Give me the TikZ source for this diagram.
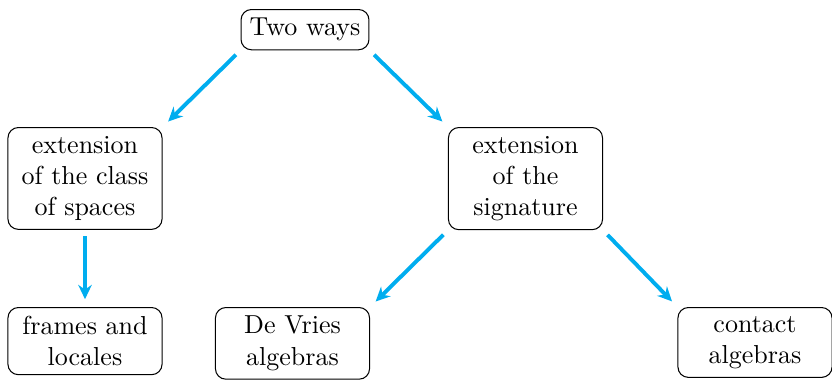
\documentclass[tikz,border=0pt]{standalone}
\usetikzlibrary{arrows.meta}
\begin{document}
\begin{tikzpicture}[x=0.3846pt, y=-0.3846pt,
  box/.style={draw, rounded corners=4pt, align=center, inner sep=3.33pt, line width=0.4pt},
  wbox/.style={box, text width=52.6pt},
  arr/.style={-{Stealth[length=5.5pt,width=5.2pt,inset=1.8pt]}, draw=cyan, line width=1.5pt, shorten <=2.5pt, shorten >=3pt}
]
\useasboundingbox (0,0) rectangle (832,379);
\node[box, anchor=north] (top) at (305,9) {Two ways};
\node[wbox, anchor=north] (cls) at (85,127) {extension\\of the class\\of spaces};
\node[wbox, anchor=north] (sig) at (525.5,127) {extension\\of the\\signature};
\node[wbox, anchor=north] (frm) at (85,307) {frames and\\locales};
\node[wbox, anchor=north] (dev) at (292.5,307) {De Vries\\algebras};
\node[wbox, anchor=north] (con) at (755,307) {contact\\algebras};
\draw[arr] (top.south west) -- (cls.north east);
\draw[arr] (top.south east) -- (sig.north west);
\draw[arr] (cls.south) -- (frm.north);
\draw[arr] (sig.south west) -- (dev.north east);
\draw[arr] (sig.south east) -- (con.north west);
\end{tikzpicture}
\end{document}
